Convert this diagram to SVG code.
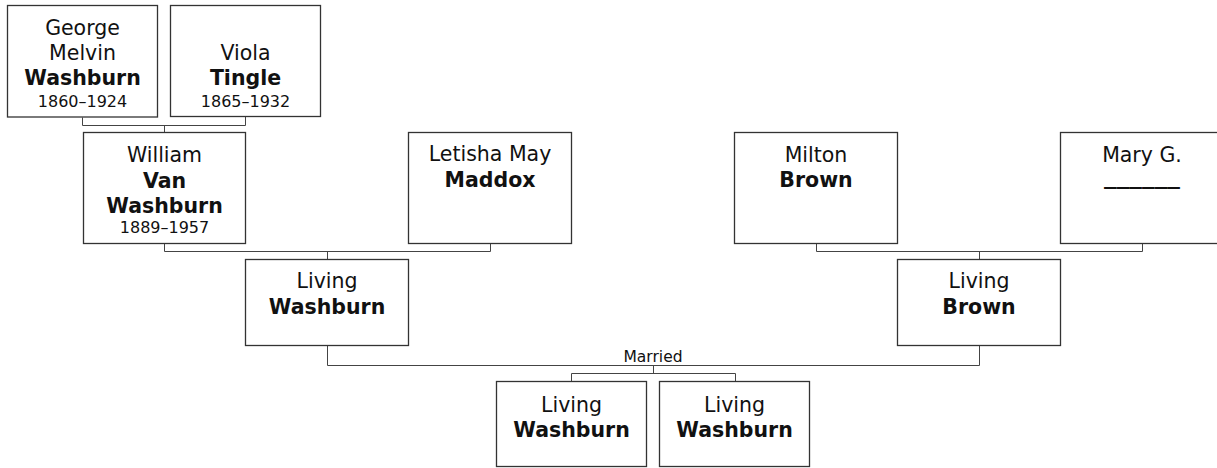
<svg xmlns="http://www.w3.org/2000/svg" width="1217" height="468" viewBox="0 0 1217 468">
<style>
.box{fill:#fff;stroke:#333;stroke-width:1.3}
.con{fill:none;stroke:#444;stroke-width:1}
text{font-family:"DejaVu Sans",Verdana,sans-serif;fill:#111;text-anchor:middle}
.n{font-size:20.5px}
.b{font-size:20.5px;font-weight:bold}
.d{font-size:16px}
.m{font-size:15.5px}
</style>
<rect width="1217" height="468" fill="#fff"/>
<g id="connectors">
<path class="con" d="M82.5 117.5V125.5H245.5V116.5M164.5 125.5V132.5"/>
<path class="con" d="M164.5 243.5V251.5H490.5V243.5M327.5 251.5V259.5"/>
<path class="con" d="M816.5 243.5V251.5H1142.5V243.5M979.5 251.5V259.5"/>
<path class="con" d="M327.5 345.5V365.5H979.5V345.5M653.5 365.5V373.5M571.5 381.5V373.5H735.5V381.5"/>
<text class="m" x="653" y="362">Married</text>
</g>
<g id="george">
<rect class="box" x="7.5" y="5.5" width="150" height="111.5"/>
<text class="n" x="82.5" y="34.5">George</text>
<text class="n" x="82.5" y="59.5">Melvin</text>
<text class="b" x="82.5" y="85">Washburn</text>
<text class="d" x="82.5" y="106.5">1860–1924</text>
</g>
<g id="viola">
<rect class="box" x="170.5" y="5.5" width="150" height="111"/>
<text class="n" x="245.5" y="59.5">Viola</text>
<text class="b" x="245.5" y="85">Tingle</text>
<text class="d" x="245.5" y="106.5">1865–1932</text>
</g>
<g id="william">
<rect class="box" x="83.5" y="132.5" width="162" height="111"/>
<text class="n" x="164.5" y="161.5">William</text>
<text class="b" x="164.5" y="188">Van</text>
<text class="b" x="164.5" y="213">Washburn</text>
<text class="d" x="164.5" y="233">1889–1957</text>
</g>
<g id="letisha">
<rect class="box" x="408.5" y="132.5" width="163" height="111"/>
<text class="n" x="490" y="160.5">Letisha May</text>
<text class="b" x="490" y="186.5">Maddox</text>
</g>
<g id="milton">
<rect class="box" x="734.5" y="132.5" width="163" height="111"/>
<text class="n" x="816" y="161.5">Milton</text>
<text class="b" x="816" y="186.5">Brown</text>
</g>
<g id="mary">
<rect class="box" x="1060.5" y="132.5" width="163" height="111"/>
<text class="n" x="1142" y="161.5">Mary G.</text>
<text class="b" x="1142" y="184" textLength="76" lengthAdjust="spacingAndGlyphs">______</text>
</g>
<g id="living-washburn">
<rect class="box" x="245.5" y="259.5" width="163" height="86"/>
<text class="n" x="327" y="288">Living</text>
<text class="b" x="327" y="314">Washburn</text>
</g>
<g id="living-brown">
<rect class="box" x="897.5" y="259.5" width="163" height="86"/>
<text class="n" x="979" y="288">Living</text>
<text class="b" x="979" y="314">Brown</text>
</g>
<g id="child1">
<rect class="box" x="496.5" y="381.5" width="150" height="85"/>
<text class="n" x="571.5" y="411.5">Living</text>
<text class="b" x="571.5" y="436.5">Washburn</text>
</g>
<g id="child2">
<rect class="box" x="659.5" y="381.5" width="150" height="85"/>
<text class="n" x="734.5" y="411.5">Living</text>
<text class="b" x="734.5" y="436.5">Washburn</text>
</g>
</svg>
